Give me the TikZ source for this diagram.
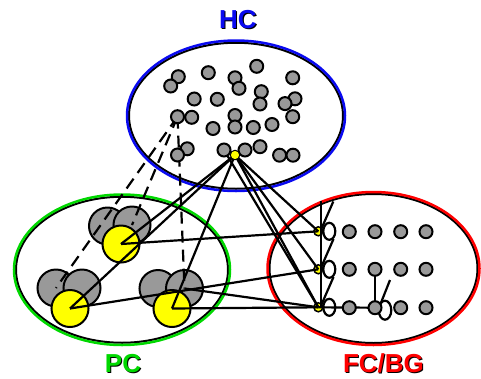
\documentclass[tikz,border=0pt]{standalone}
\usepackage{fontspec}
\setmainfont{Liberation Sans}
\usetikzlibrary{calc}
\pgfdeclarelayer{back}
\pgfdeclarelayer{mid}
\pgfdeclarelayer{front}
\pgfsetlayers{back,mid,main,front}
\definecolor{cgray}{HTML}{999999}
\definecolor{cblue}{HTML}{0A0AF0}
\definecolor{cgreen}{HTML}{00D800}
\definecolor{cred}{HTML}{FF0000}
\definecolor{cyel}{HTML}{FFFF00}
\begin{document}
\begin{tikzpicture}[x=1pt,y=-1pt,
  hcc/.style={circle,draw=black,line width=2pt,fill=cgray,minimum size=13pt,inner sep=0pt,outer sep=0pt},
  bigc/.style={circle,draw=black,line width=2pt,fill=cgray,minimum size=37pt,inner sep=0pt,outer sep=0pt},
  bigy/.style={bigc,fill=cyel},
  hyel/.style={circle,draw=black,line width=1pt,fill=cyel,minimum size=9.5pt,inner sep=0pt,outer sep=0pt},
  fyel/.style={circle,draw=black,line width=1.5pt,fill=cyel,minimum size=9pt,inner sep=0pt,outer sep=0pt},
  conn/.style={line width=2.2pt,black},
  dconn/.style={conn,dash pattern=on 12pt off 7pt},
  lbl/.style={font=\fontsize{26}{30}\selectfont\bfseries,inner sep=0pt,anchor=base},
  region/.style={line width=2.5pt},
  rshadow/.style={line width=2pt,black}
]
\useasboundingbox (0,0) rectangle (481,378);

% ---------- regions ----------
\begin{pgfonlayer}{back}
\fill[white] (0,0) rectangle (481,378);
\draw[rshadow] (236,115.75) ellipse (107pt and 73pt);
\draw[region,cblue] (236,115.75) ellipse (109pt and 75.25pt);
\draw[rshadow] (122,269.75) ellipse (106pt and 73pt);
\draw[region,cgreen] (122,269.75) ellipse (108pt and 75.25pt);
\draw[rshadow] (373.5,268.5) ellipse (104pt and 74.5pt);
\draw[region,cred] (373.5,268.5) ellipse (106pt and 76.5pt);
\end{pgfonlayer}

% ---------- labels ----------
\node[lbl,text=black] (hcs) at (239,29) {HC};
\node[lbl,text=cblue] (hc) at (238,28) {HC};
\node[lbl,text=black] (pcs) at (124,373) {PC};
\node[lbl,text=cgreen] (pc) at (123,372) {PC};
\node[lbl,text=black] (fcs) at (384.5,373) {FC/BG};
\node[lbl,text=cred] (fc) at (383.5,372) {FC/BG};

% ---------- PC units and FC action units ----------
\begin{pgfonlayer}{mid}
\node[bigc] (gA) at (107.5,226) {};
\node[bigc] (gB) at (132,225) {};
\node[bigy] (y1) at (121,244) {};
\node[bigc] (gC) at (56,288) {};
\node[bigc] (gD) at (82,288) {};
\node[bigy] (y2) at (70,308.5) {};
\node[bigc] (gE) at (158,288.5) {};
\node[bigc] (gF) at (184.5,288.5) {};
\node[bigy] (y3) at (172,308.5) {};
\node[fyel] (fy1) at (318.3,231.3) {};
\node[fyel] (fy2) at (318.3,269.3) {};
\node[fyel] (fy3) at (318.3,307.3) {};
\end{pgfonlayer}

% ---------- HC cells ----------
\begin{pgfonlayer}{front}
\node[hcc] (h1) at (178.3,76.7) {};
\node[hcc] (h2) at (170.7,86) {};
\node[hcc] (h3) at (208.3,72.7) {};
\node[hcc] (h4) at (235,77.8) {};
\node[hcc] (h5) at (239,88.3) {};
\node[hcc] (h6) at (256.7,66.3) {};
\node[hcc] (h7) at (292.7,77.8) {};
\node[hcc] (h8) at (194.2,99) {};
\node[hcc] (h9) at (217.3,99.3) {};
\node[hcc] (h10) at (261.3,91.7) {};
\node[hcc] (h11) at (260,104) {};
\node[hcc] (h13) at (295,98.8) {};
\node[hcc] (h12) at (285,103.6) {};
\node[hcc] (h14) at (177.5,116.7) {};
\node[hcc] (h15) at (191.7,117.3) {};
\node[hcc] (h16) at (235,115.5) {};
\node[hcc] (h17) at (235,127) {};
\node[hcc] (h18) at (213,128.5) {};
\node[hcc] (h19) at (253.3,127.5) {};
\node[hcc] (h20) at (272,124.5) {};
\node[hcc] (h21) at (292.7,116.7) {};
\node[hcc] (h23) at (187.2,148.8) {};
\node[hcc] (h22) at (177.5,155) {};
\node[hcc] (h24) at (224,150) {};
\node[hcc] (h25) at (245,150) {};
\node[hcc] (h26) at (260,146.7) {};
\node[hcc] (h27) at (279.6,155.2) {};
\node[hcc] (h28) at (293,155.2) {};
\node[hyel] (hy) at (235,155) {};
% FC/BG grid
\node[hcc] (f11) at (349.3,231.7) {};
\node[hcc] (f12) at (375,231.7) {};
\node[hcc] (f13) at (400.7,231.7) {};
\node[hcc] (f14) at (426,231.7) {};
\node[hcc] (f21) at (349.3,269.3) {};
\node[hcc] (f22) at (375,269.3) {};
\node[hcc] (f23) at (400.7,269.3) {};
\node[hcc] (f24) at (426,269.3) {};
\node[hcc] (f31) at (349.3,307.7) {};
\node[hcc] (f32) at (375,307.7) {};
\node[hcc] (f33) at (400.7,307.7) {};
\node[hcc] (f34) at (426,307.7) {};
\end{pgfonlayer}

% ---------- connections ----------
\draw[dconn] (h14.center) -- (gC.center);
\draw[dconn] (h14.center) -- (gB.center);
\draw[dconn] (h14.center) -- (gF.center);

\draw[conn] (hy.center) -- (y1.center);
\draw[conn] (hy.center) -- (y2.center);
\draw[conn] (hy.center) -- (y3.center);
\draw[conn] (hy.center) -- (fy1.center);
\draw[conn] (hy.center) -- (fy2.center);
\draw[conn] (hy.center) -- (fy3.center);
\draw[conn] (h24.center) -- (fy3.center);

\draw[conn] (y1.center) -- (fy1.center);
\draw[conn] (y2.center) -- (fy2.center);
\draw[conn] (y3.center) -- (fy3.center);
\draw[conn] (gF.center) -- (fy3.center);
\draw[conn] (fy3.center) -- (f32.center);

% lateral connections among FC/BG units
\coordinate (vtop) at (321,201);
\coordinate (vbot) at (321,307.3);
\draw[conn] (vtop) -- (vbot);
\coordinate (d1s) at (321.5,228.5);
\coordinate (d1e) at (333.3,201.5);
\coordinate (d2s) at (321.5,266.5);
\coordinate (d2e) at (333.5,239);
\coordinate (d3s) at (321.5,304.5);
\coordinate (d3e) at (333.5,277);
\draw[conn] (d1s) -- (d1e);
\draw[conn] (d2s) -- (d2e);
\draw[conn] (d3s) -- (d3e);
\draw[conn] ([xshift=11pt]fy1.center) ellipse (6pt and 8.5pt);
\draw[conn] ([xshift=11pt]fy2.center) ellipse (6pt and 8.5pt);
\draw[conn] ([xshift=11pt]fy3.center) ellipse (6pt and 8.5pt);

\draw[conn] (f22.center) -- (f32.center);
\coordinate (g3s) at (379.5,306.5);
\coordinate (g3e) at (390,280);
\draw[conn] (g3s) -- (g3e);
\draw[conn] ([xshift=10pt,yshift=-2.5pt]f32.center) ellipse (6.3pt and 9.5pt);
\end{tikzpicture}
\end{document}
